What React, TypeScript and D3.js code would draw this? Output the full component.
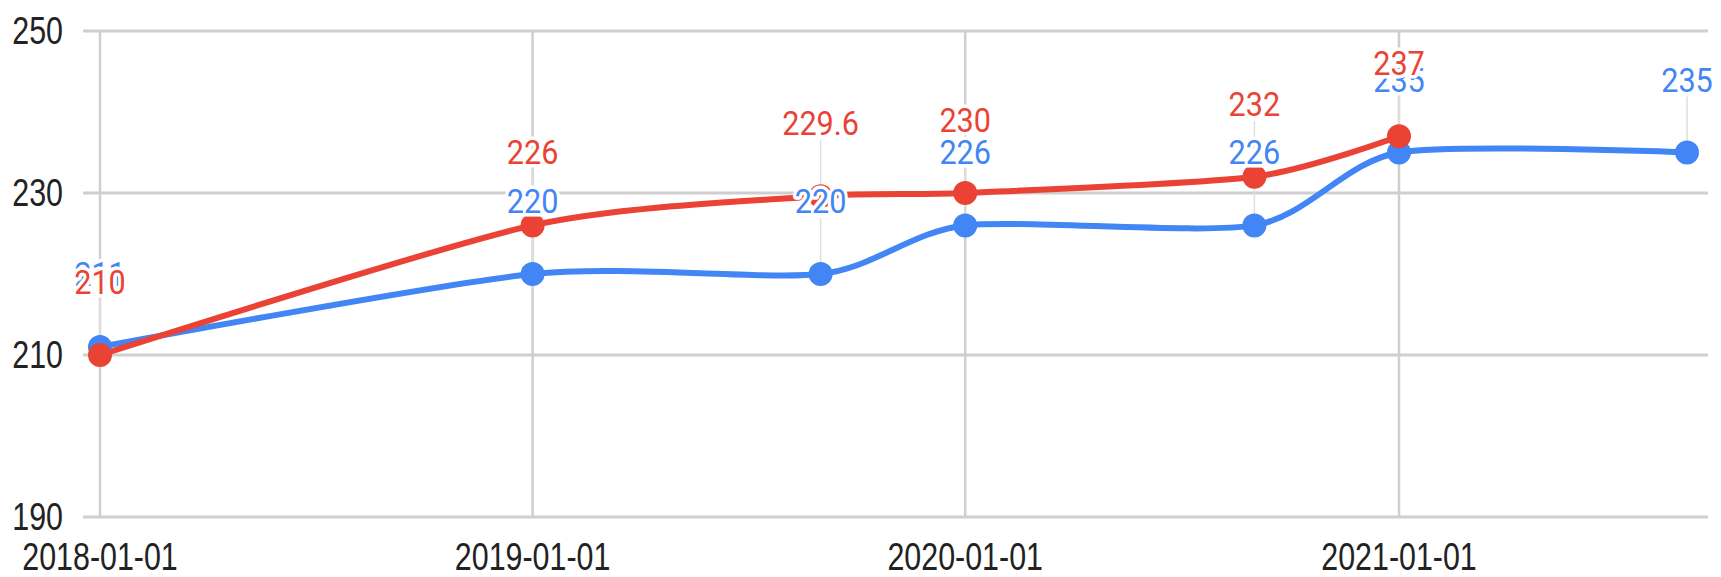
import * as d3 from 'd3'

const blueDates = ['2018-01-01', '2019-01-01', '2019-09-01', '2020-01-01', '2020-09-01', '2021-01-01', '2021-09-01']
const blueValues = [211, 220, 220, 226, 226, 235, 235]
const redDates = ['2018-01-01', '2019-01-01', '2019-09-01', '2020-01-01', '2020-09-01', '2021-01-01']
const redValues = [210, 226, 229.6, 230, 232, 237]
const yTicks = [190, 210, 230, 250]
const xTicks = ['2018-01-01', '2019-01-01', '2020-01-01', '2021-01-01']

const BLUE = '#4285f4'
const RED = '#ea4335'

interface Pt {
  date: Date
  value: number
}

const toPts = (dates: string[], values: number[]): Pt[] =>
  dates.map((d, i) => ({ date: new Date(d + 'T00:00:00Z'), value: values[i] }))

export default function App() {
  const width = 1721
  const height = 577

  const x = d3
    .scaleUtc()
    .domain([new Date('2018-01-01T00:00:00Z'), new Date('2021-01-01T00:00:00Z')])
    .range([100, 1399])
  const y = d3.scaleLinear().domain([190, 250]).range([517, 31])

  const series = [
    { name: 'blue', color: BLUE, pts: toPts(blueDates, blueValues) },
    { name: 'red', color: RED, pts: toPts(redDates, redValues) },
  ]

  // google's "smooth" is a bit tighter than a plain catmull-rom
  const line = d3
    .line<Pt>()
    .x((d) => x(d.date))
    .y((d) => y(d.value))
    .curve(d3.curveCardinal.tension(0.25))

  const axisFont = '"Liberation Sans", Arial, sans-serif'
  const labelFont = 'Roboto, "Noto Sans", sans-serif'

  return (
    <div style={{ position: 'absolute', left: 0, top: 0 }}>
      <svg width={width} height={height} style={{ display: 'block', background: '#fff' }}>
        {/* grid */}
        <g>
          {yTicks.map((t) => (
            <line key={'h' + t} x1={83} x2={1708} y1={y(t)} y2={y(t)} stroke="#cfcfcf" strokeWidth={3} />
          ))}
          {xTicks.map((t) => {
            const xx = x(new Date(t + 'T00:00:00Z'))
            return <line key={'v' + t} x1={xx} x2={xx} y1={y(250)} y2={y(190)} stroke="#cfcfcf" strokeWidth={2.5} />
          })}
        </g>

        {/* leader lines from labels to points */}
        <g>
          {series.map((s) =>
            s.pts.map((p, i) => (
              <line
                key={s.name + 'l' + i}
                x1={x(p.date)}
                x2={x(p.date)}
                y1={y(p.value) - 56}
                y2={y(p.value)}
                stroke="#dedede"
                strokeWidth={1.5}
              />
            )),
          )}
        </g>

        {/* y labels */}
        <g fontFamily={axisFont} fontSize={38} fill="#222">
          {yTicks.map((t) => (
            <text
              key={'yl' + t}
              transform={`translate(63,${y(t)}) scale(0.8,1)`}
              textAnchor="end"
              dominantBaseline="central"
            >
              {t}
            </text>
          ))}
        </g>

        {/* x labels */}
        <g fontFamily={axisFont} fontSize={38} fill="#222">
          {xTicks.map((t) => (
            <text
              key={'xl' + t}
              transform={`translate(${x(new Date(t + 'T00:00:00Z'))},570) scale(0.8,1)`}
              textAnchor="middle"
            >
              {t}
            </text>
          ))}
        </g>

        {/* lines */}
        {series.map((s) => (
          <path key={s.name + 'path'} d={line(s.pts) ?? ''} fill="none" stroke={s.color} strokeWidth={6} strokeLinejoin="round" />
        ))}

        {/* points */}
        {series.map((s) =>
          s.pts.map((p, i) => (
            <circle key={s.name + 'c' + i} cx={x(p.date)} cy={y(p.value)} r={12} fill={s.color} />
          )),
        )}

        {/* data labels */}
        <g fontFamily={labelFont} fontSize={34}>
          {series.map((s) =>
            s.pts.map((p, i) => (
              <text
                key={s.name + 't' + i}
                transform={`translate(${x(p.date)},${y(p.value) - 61}) scale(0.9,1)`}
                textAnchor="middle"
                fill={s.color}
                stroke="#fff"
                strokeWidth={7}
                strokeLinejoin="round"
                paintOrder="stroke"
              >
                {p.value}
              </text>
            )),
          )}
        </g>
      </svg>
    </div>
  )
}
